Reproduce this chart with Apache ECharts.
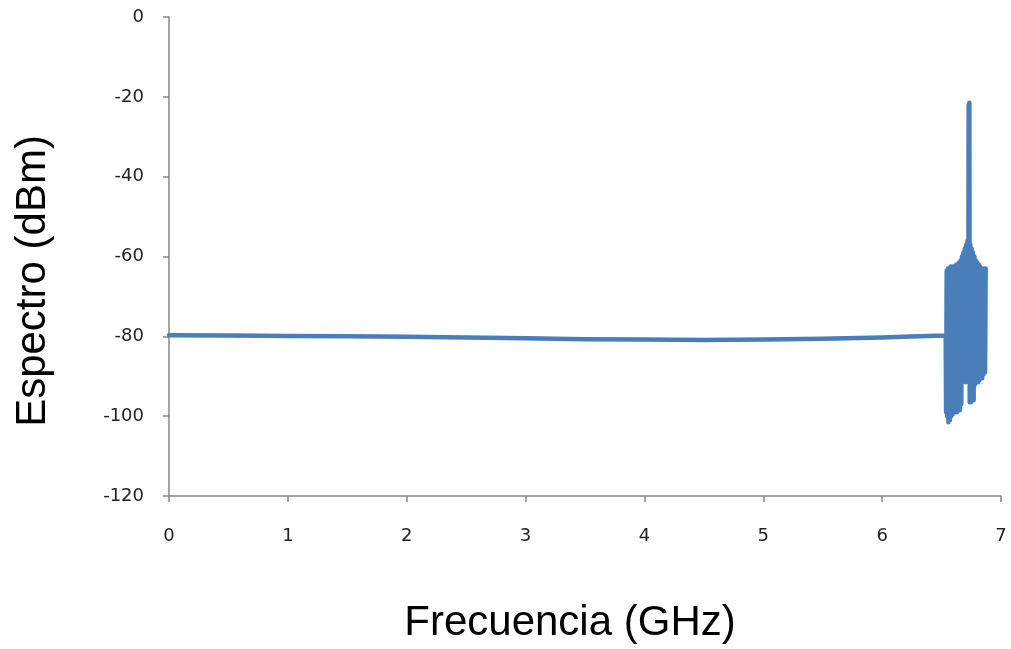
<!DOCTYPE html>
<html>
<head>
<meta charset="utf-8">
<script src="https://cdn.jsdelivr.net/npm/echarts@6/dist/echarts.min.js"></script>
<style>html,body{margin:0;padding:0;background:#fff;}#chart{width:1011px;height:649px;}</style>
</head>
<body>
<div id="chart"></div>
<script>
// Frequency (GHz) and spectrum (dBm)
const baseFreq = [0, 0.5, 1, 1.5, 2, 2.5, 3, 3.5, 4, 4.5, 5, 5.5, 6, 6.3, 6.535];
const baseLevel = [-79.7, -79.8, -79.9, -80.0, -80.1, -80.3, -80.5, -80.7, -80.8, -80.9, -80.8, -80.6, -80.3, -80.0, -79.8];

const burstFreq = [6.538, 6.543, 6.548, 6.553, 6.558, 6.564, 6.570, 6.576, 6.582,
  6.588, 6.594, 6.600, 6.606, 6.612, 6.618, 6.624, 6.630, 6.636, 6.642,
  6.648, 6.654, 6.660, 6.666, 6.672, 6.678, 6.684, 6.690, 6.696, 6.702,
  6.708, 6.714, 6.719, 6.724, 6.728, 6.731, 6.734, 6.737, 6.742, 6.747, 6.752,
  6.758, 6.764, 6.770, 6.776, 6.782, 6.788, 6.794, 6.800, 6.806, 6.812,
  6.818, 6.824, 6.830, 6.836, 6.842, 6.848, 6.854, 6.860, 6.866, 6.871];
const burstLevel = [-99, -63.5, -100, -63, -101.5, -63, -101, -62.5, -100,
  -62.5, -99.5, -62.5, -99, -62.5, -98.5, -62, -99, -62, -98,
  -61.5, -98.5, -61, -97, -60, -91, -59, -91, -58, -91.5,
  -57, -86, -56, -87, -22, -80, -21.5, -96.5, -57, -96.5, -58,
  -96, -59, -96, -60, -92, -61, -91.5, -61.5, -91.5, -62,
  -91, -62.5, -90.5, -63, -90.5, -63, -89.5, -63, -89, -63];

const xTicks = [0, 1, 2, 3, 4, 5, 6, 7];
const yTicks = [-120, -100, -80, -60, -40, -20, 0];

const data = [];
baseFreq.forEach((f, i) => data.push([f, baseLevel[i]]));
burstFreq.forEach((f, i) => data.push([f, burstLevel[i]]));

const chart = echarts.init(document.getElementById('chart'), null, {renderer: 'canvas'});
const axisColor = '#868686';
const labelStyle = {color: '#222', fontFamily: 'DejaVu Sans', fontSize: 18};
const titleFont = {fontFamily: 'Liberation Sans', fontSize: 42, fill: '#000',
  textAlign: 'center', textVerticalAlign: 'middle'};
chart.setOption({
  animation: false,
  backgroundColor: '#fff',
  grid: {left: 169, right: 10, top: 17, bottom: 153, containLabel: false},
  xAxis: {
    type: 'value', min: xTicks[0], max: xTicks[xTicks.length - 1], interval: 1,
    axisLine: {onZero: false, lineStyle: {color: axisColor, width: 1.5}},
    axisTick: {show: true, length: 6, lineStyle: {color: axisColor, width: 1.5}},
    axisLabel: Object.assign({margin: 31}, labelStyle),
    splitLine: {show: false}
  },
  yAxis: {
    type: 'value', min: yTicks[0], max: yTicks[yTicks.length - 1], interval: 20,
    axisLine: {show: true, onZero: false, lineStyle: {color: axisColor, width: 1.5}},
    axisTick: {show: true, length: 6, lineStyle: {color: axisColor, width: 1.5}},
    axisLabel: Object.assign({margin: 25}, labelStyle),
    splitLine: {show: false}
  },
  graphic: [{
    type: 'text', x: 33, y: 281, rotation: Math.PI / 2,
    style: Object.assign({text: 'Espectro (dBm)'}, titleFont)
  }, {
    type: 'text', x: 570, y: 623,
    style: Object.assign({text: 'Frecuencia (GHz)'}, titleFont)
  }],
  series: [{
    type: 'line', data: data, showSymbol: false, symbol: 'none',
    lineStyle: {color: '#4A7EBB', width: 4.5, join: 'round', cap: 'round'},
    emphasis: {disabled: true}
  }]
});
</script>
</body>
</html>
